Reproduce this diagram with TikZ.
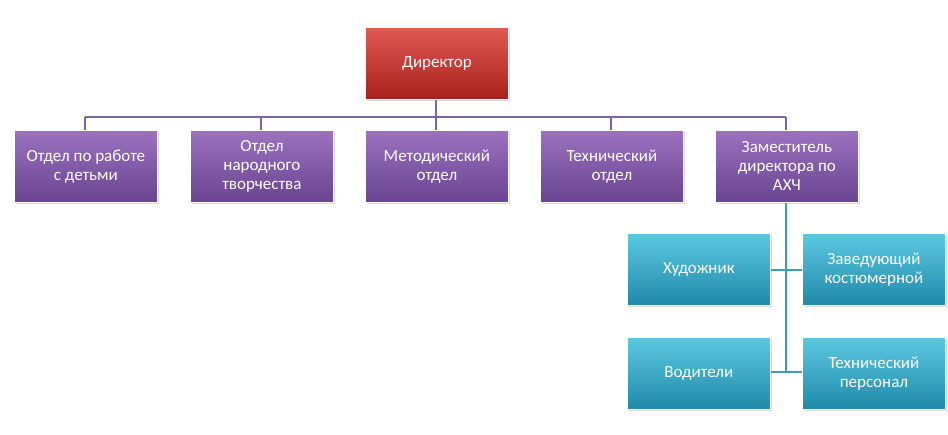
\documentclass[tikz,border=0pt]{standalone}
\usepackage{fontspec}
\setmainfont{Carlito}
\usetikzlibrary{shadows}
\definecolor{redT}{HTML}{E05A55}\definecolor{redB}{HTML}{A8201C}
\definecolor{purT}{HTML}{9A72C0}\definecolor{purB}{HTML}{6A4490}
\definecolor{tealT}{HTML}{5CC8E2}\definecolor{tealB}{HTML}{1F8AA8}
\definecolor{purL}{HTML}{8064A2}\definecolor{tealL}{HTML}{3C9DB8}
\begin{document}
\begin{tikzpicture}[x=1pt,y=-1pt,
 box/.style={draw=white,line width=0.8pt,minimum width=143pt,minimum height=72pt,align=center,text=white,font=\fontsize{17}{19}\selectfont,anchor=north west,inner sep=2pt,drop shadow={opacity=0.3,shadow xshift=1.5pt,shadow yshift=-1.5pt}},
 rbox/.style={box,top color=redT,bottom color=redB},
 pbox/.style={box,top color=purT,bottom color=purB},
 tbox/.style={box,top color=tealT,bottom color=tealB},
 pl/.style={draw=purL,line width=2pt},
 tl/.style={draw=tealL,line width=2.5pt}]
\useasboundingbox (0,0) rectangle (948,434);
\coordinate (hl) at (85,117);
\coordinate (hr) at (786,117);
\draw[pl] (hl) -- (hr);
\draw[pl] (436,99) -- (436,117);
\foreach \x in {85,261,436,611,786}{\draw[pl] (\x,117) -- (\x,130);}
\coordinate (v1) at (786,270);
\coordinate (v2) at (786,372);
\draw[tl] (786,203) -- (v2);
\draw[tl] (771,270) -- (802,270);
\draw[tl] (771,372) -- (802,372);
\node[rbox] (dir) at (365,27) {Директор};
\node[pbox] (p1) at (14,130) {Отдел по работе\\с детьми};
\node[pbox] (p2) at (190,130) {Отдел\\народного\\творчества};
\node[pbox] (p3) at (365,130) {Методический\\отдел};
\node[pbox] (p4) at (540,130) {Технический\\отдел};
\node[pbox] (p5) at (715,130) {Заместитель\\директора по\\АХЧ};
\node[tbox] (t1) at (627,233) {Художник};
\node[tbox] (t2) at (802,233) {Заведующий\\костюмерной};
\node[tbox] (t3) at (627,337) {Водители};
\node[tbox] (t4) at (802,337) {Технический\\персонал};
\end{tikzpicture}
\end{document}
